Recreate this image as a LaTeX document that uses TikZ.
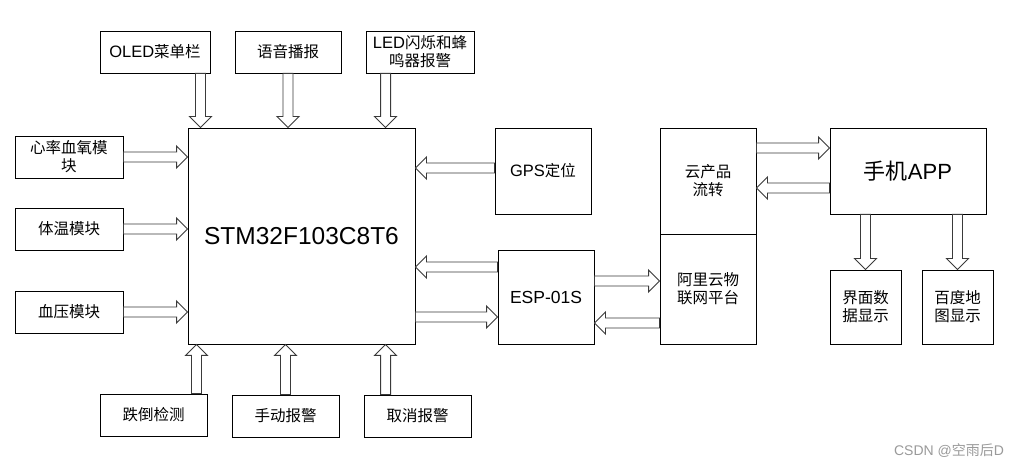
\documentclass[tikz,border=0pt]{standalone}
\usepackage{fontspec}
\setmainfont{Liberation Sans}
\newfontfamily\cjk{Noto Sans CJK SC}
\newcommand\latn[1]{{\rmfamily\fontsize{16.5}{18}\selectfont #1}}
\usepackage{tikz}
\usetikzlibrary{calc}
\definecolor{arrowgray}{HTML}{3A3A3A}
\definecolor{markgray}{HTML}{9A9A9A}
\tikzset{
  box/.style={draw=black, line width=0.9pt, fill=white, align=center, inner sep=0pt,
    font=\cjk\fontsize{15.5}{18}\selectfont},
  smallbox/.style={box, minimum width=108pt, minimum height=42pt},
  blockarrow/.style={draw=arrowgray, fill=white, line width=0.9pt, line join=miter,
    to path={let \p1=(\tikztostart), \p2=(\tikztotarget),
      \n1={veclen(\x2-\x1,\y2-\y1)}, \n2={atan2(\y2-\y1,\x2-\x1)} in
      ([shift={(\p1)},rotate=\n2]0pt,-5pt)
      -- ([shift={(\p1)},rotate=\n2]\n1*1pt-11pt,-5pt)
      -- ([shift={(\p1)},rotate=\n2]\n1*1pt-11pt,-11pt)
      -- ([shift={(\p1)},rotate=\n2]\n1*1pt,0pt)
      -- ([shift={(\p1)},rotate=\n2]\n1*1pt-11pt,11pt)
      -- ([shift={(\p1)},rotate=\n2]\n1*1pt-11pt,5pt)
      -- ([shift={(\p1)},rotate=\n2]0pt,5pt) -- cycle}}
}

\begin{document}
\begin{tikzpicture}[x=1pt,y=-1pt]
      \fill[white] (0,0) rectangle (1023,470);
      \useasboundingbox (0,0) rectangle (1023,470);
      % controller and its peripherals
      \node[box, minimum width=227pt, minimum height=216pt,
        font=\rmfamily\fontsize{24.5}{28}\selectfont] (stm) at (301.5,236) {STM32F103C8T6};
      \node[smallbox, minimum width=110pt] (oled) at (155,52) {\latn{OLED}菜单栏};
      \node[smallbox, minimum width=106pt] (voice) at (288,52) {语音播报};
      \node[smallbox] (led) at (420,52) {\latn{LED}闪烁和蜂\\鸣器报警};
      \node[smallbox] (hr) at (69,157) {心率血氧模\\块};
      \node[smallbox] (temp) at (69,229) {体温模块};
      \node[smallbox] (bp) at (69,312) {血压模块};
      \node[smallbox, minimum width=107pt] (fall) at (153.5,415) {跌倒检测};
      \node[smallbox, minimum width=107pt] (manual) at (285.5,416) {手动报警};
      \node[smallbox, minimum width=107pt] (cancel) at (417.5,416) {取消报警};
      \node[box, minimum width=96pt, minimum height=86pt] (gps) at (543,171) {\latn{GPS}定位};
      \node[box, minimum width=96pt, minimum height=94pt,
        font=\rmfamily\fontsize{17.5}{20}\selectfont] (esp) at (546,297) {ESP-01S};
      % cloud side
      \node[box, minimum width=96pt, minimum height=106pt] (cloudt) at (708,181) {云产品\\流转};
      \node[box, minimum width=96pt, minimum height=110pt] (cloudb) at (708,289) {阿里云物\\联网平台};
      \node[box, minimum width=156pt, minimum height=86pt,
        font=\cjk\fontsize{22}{26}\selectfont] (app) at (908,171) {手机{\rmfamily APP}};
      \node[box, minimum width=71pt, minimum height=74pt] (ui) at (865.5,307) {界面数\\据显示};
      \node[box, minimum width=71pt, minimum height=74pt] (map) at (957.5,307) {百度地\\图显示};
      \node[font=\cjk\fontsize{14}{16}\selectfont, text=markgray] (mark) at (949,451)
        {{\rmfamily CSDN @}空雨后{\rmfamily D}};
      % arrows
      \draw[blockarrow] ([xshift=-10pt]oled.south east) to ([xshift=-10pt]oled.south east |- stm.north);
      \draw[blockarrow] (voice.south) to (voice.south |- stm.north);
      \draw[blockarrow] ([xshift=20pt]led.south west) to ([xshift=20pt]led.south west |- stm.north);
      \foreach \m in {hr,temp,bp}
        \draw[blockarrow] (\m.east) to (\m.east -| stm.west);
      \draw[blockarrow] ([xshift=-11pt]fall.north east) to ([xshift=-11pt]fall.north east |- stm.south);
      \draw[blockarrow] (manual.north) to (manual.north |- stm.south);
      \draw[blockarrow] ([xshift=22pt]cancel.north west) to ([xshift=22pt]cancel.north west |- stm.south);
      \draw[blockarrow] ([yshift=3pt]gps.west) to ([yshift=3pt]gps.west -| stm.east);
      \draw[blockarrow] ([yshift=30pt]esp.west) to ([yshift=30pt]esp.west -| stm.east);
      \draw[blockarrow] ([yshift=-20pt]esp.west -| stm.east) to ([yshift=-20pt]esp.west);
      \draw[blockarrow] ([yshift=16pt]esp.east) to ([yshift=16pt]esp.east -| cloudb.west);
      \draw[blockarrow] ([yshift=-26pt]esp.east -| cloudb.west) to ([yshift=-26pt]esp.east);
      \draw[blockarrow] ([yshift=23pt]app.west -| cloudt.east) to ([yshift=23pt]app.west);
      \draw[blockarrow] ([yshift=-17pt]app.west) to ([yshift=-17pt]app.west -| cloudt.east);
      \foreach \m in {ui,map}
        \draw[blockarrow] (\m.north |- app.south) to (\m.north);
    \end{tikzpicture}
\end{document}
